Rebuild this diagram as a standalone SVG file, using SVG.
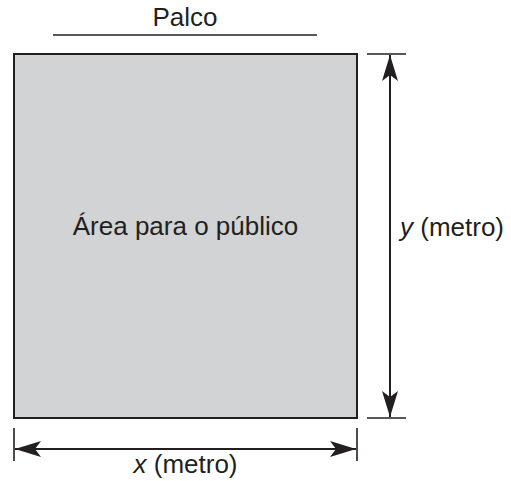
<svg xmlns="http://www.w3.org/2000/svg" width="511" height="481" viewBox="0 0 511 481">
  <style>
    .t { font-family: "Liberation Sans", Arial, sans-serif; font-size: 26px; fill: #231f20; }
    .i { font-style: italic; }
    .ln { stroke: #231f20; stroke-width: 2; fill: none; }
    .tick { stroke: #231f20; stroke-width: 1.6; fill: none; }
  </style>
  <defs>
    <marker id="arr" viewBox="-26 -8 26 16" markerWidth="26" markerHeight="16" refX="0" refY="0" markerUnits="userSpaceOnUse" orient="auto-start-reverse">
      <path d="M0,0 L-26,-8 L-20,0 L-26,8 Z" fill="#231f20"/>
    </marker>
  </defs>
  <rect width="511" height="481" fill="#ffffff"/>

  <g id="palco">
    <text class="t" x="185" y="26" text-anchor="middle">Palco</text>
    <line class="tick" x1="53" y1="35" x2="317" y2="35"/>
  </g>

  <g id="area">
    <rect x="14" y="54" width="343" height="364" fill="#d1d3d4" stroke="#231f20" stroke-width="2"/>
    <text class="t" x="185.5" y="235" text-anchor="middle">Área para o público</text>
  </g>

  <g id="connectors">
    <line class="tick" x1="367" y1="54" x2="406" y2="54"/>
    <line class="tick" x1="367" y1="418" x2="406" y2="418"/>
    <line class="ln" x1="390" y1="55" x2="390" y2="417" marker-start="url(#arr)" marker-end="url(#arr)"/>
    <line class="tick" x1="14" y1="428" x2="14" y2="461"/>
    <line class="tick" x1="357" y1="428" x2="357" y2="461"/>
    <line class="ln" x1="15" y1="449" x2="356" y2="449" marker-start="url(#arr)" marker-end="url(#arr)"/>
  </g>

  <g id="label-y">
    <text class="t" x="400" y="236"><tspan class="i">y</tspan> (metro)</text>
  </g>
  <g id="label-x">
    <text class="t" x="185.5" y="473" text-anchor="middle"><tspan class="i">x</tspan> (metro)</text>
  </g>
</svg>
